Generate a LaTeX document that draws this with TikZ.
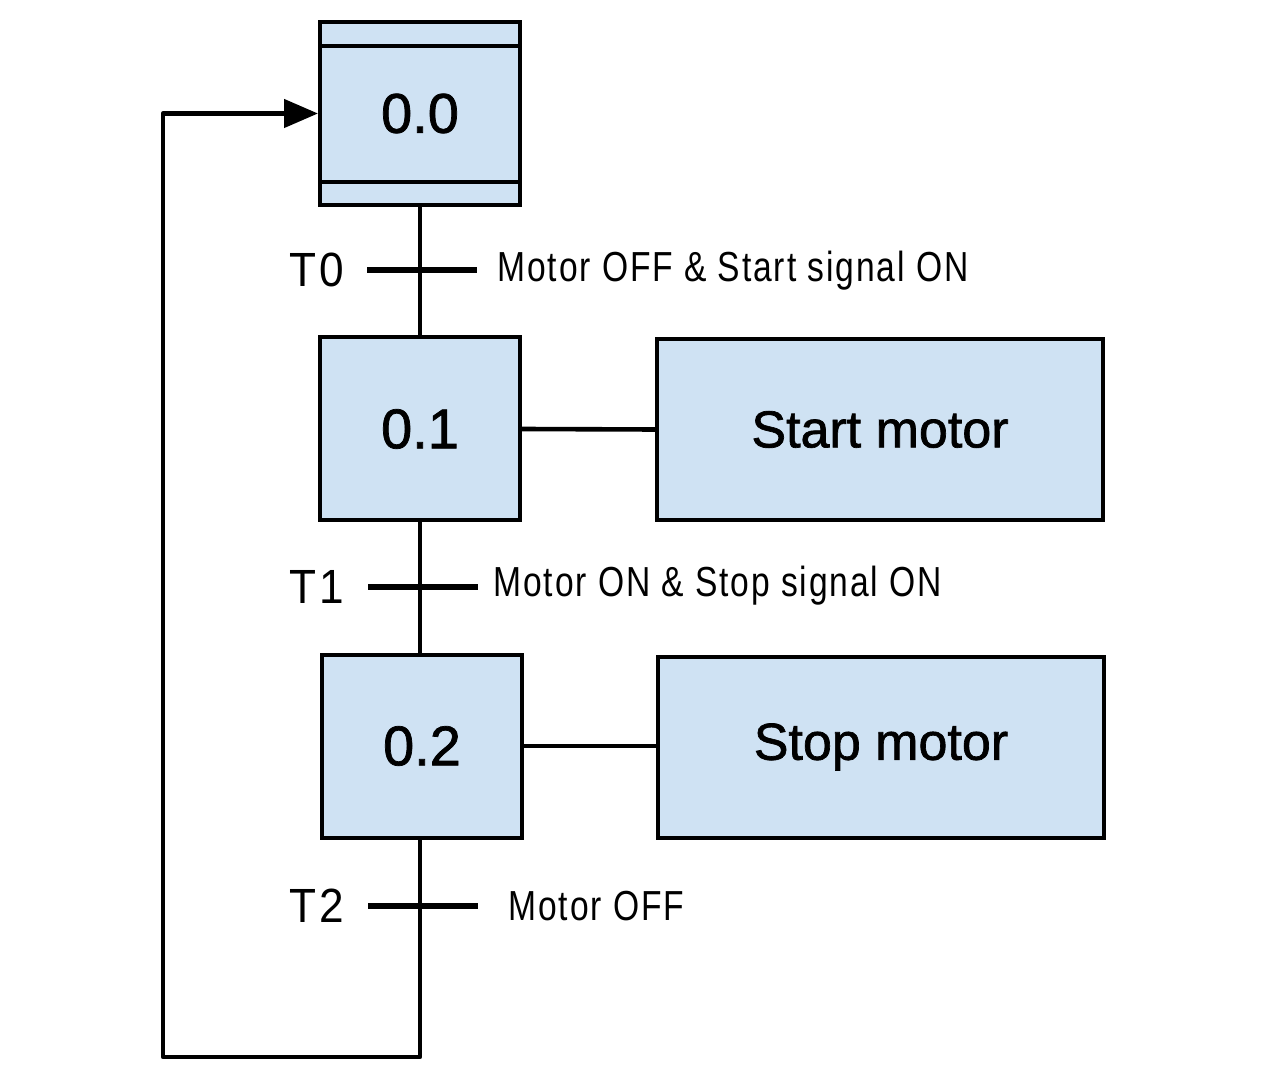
\documentclass[tikz,border=0pt]{standalone}
\usepackage{fontspec}
\setmainfont{Liberation Sans}
\newfontfamily\narrowfont[FakeStretch=0.8,LetterSpace=4.5]{Liberation Sans}
\newfontfamily\tfont[FakeStretch=0.92,LetterSpace=6]{Liberation Sans}
\newfontfamily\boxfont[FakeBold=1.3]{Liberation Sans}
\usetikzlibrary{arrows.meta}
\definecolor{stepfill}{HTML}{CFE2F3}
\begin{document}
\begin{tikzpicture}[x=0.5pt,y=-0.5pt,
  stepbox/.style={draw=black,line width=2pt,fill=stepfill,minimum width=100pt,minimum height=91.5pt,inner sep=0pt,font=\fontsize{28}{28}\boxfont},
  actbox/.style={draw=black,line width=2pt,fill=stepfill,minimum width=223pt,minimum height=90.5pt,inner sep=0pt,font=\fontsize{26}{26}\boxfont},
  bar/.style={fill=black,minimum width=55pt,minimum height=3pt,inner sep=0pt},
  tlabel/.style={font=\fontsize{24}{24}\tfont,inner sep=0pt},
  clabel/.style={font=\fontsize{21}{21}\narrowfont,anchor=west,inner sep=0pt},
  link/.style={line width=2.3pt}]
\useasboundingbox (0,0) rectangle (1280,1080);
% steps
\node[stepbox] (s0) at (420,113.5) {0.0};
\node[stepbox] (s1) at (420,429) {0.1};
\node[stepbox] (s2) at (422,746) {0.2};
\draw[line width=2pt] ([yshift=-13pt]s0.north west) -- ([yshift=-13pt]s0.north east);
\draw[line width=2pt] ([yshift=12.5pt]s0.south west) -- ([yshift=12.5pt]s0.south east);
% actions
\node[actbox] (a1) at (880,429.5) {Start motor};
\node[actbox] (a2) at (881,747) {Stop motor};
% transitions
\node[bar] (t0) at (422,270) {};
\node[bar] (t1) at (423,587) {};
\node[bar] (t2) at (423,906) {};
\node[tlabel] (l0) at (317,270) {T0};
\node[tlabel] (l1) at (317,587) {T1};
\node[tlabel] (l2) at (317,906) {T2};
\node[clabel] (c0) at (497,271) {Motor OFF \& Start signal ON};
\node[clabel] (c1) at (493,586) {Motor ON \& Stop signal ON};
\node[clabel] (c2) at (508,906) {Motor OFF};
% links
\draw[link] (s0.south) -- (s1.north);
\draw[link] (s1.south) -- (s2.north -| s1.south);
\draw[link] (s1.east) -- (a1.west);
\draw[link] (s2.east) -- (a2.west |- s2.east);
\coordinate (b) at (420,1057);
\coordinate (c) at (163,1057);
\coordinate (d) at (163,113.5);
\draw[link,line join=round,-{Triangle[length=17pt,width=14pt]}] (s2.south -| b) -- (b) -- (c) -- (d) -- (s0.west);
\end{tikzpicture}
\end{document}
